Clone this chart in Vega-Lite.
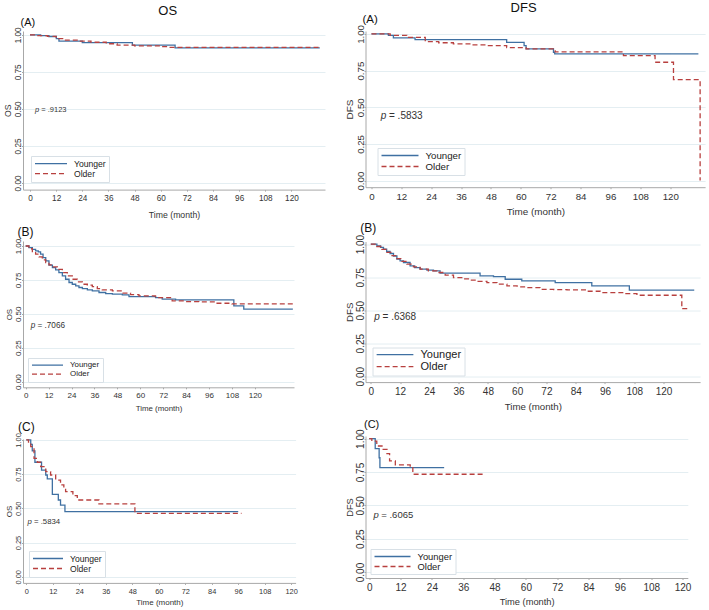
{
  "$schema": "https://vega.github.io/schema/vega-lite/v6.json",
  "padding": {"left": 3, "top": 2, "right": 0, "bottom": 0},
  "datasets": {
    "km": [
      {"panel": "OSA", "group": "Younger", "t": 0, "s": 1},
      {"panel": "OSA", "group": "Younger", "t": 4.9, "s": 0.995},
      {"panel": "OSA", "group": "Younger", "t": 8.7, "s": 0.989},
      {"panel": "OSA", "group": "Younger", "t": 12.1, "s": 0.974},
      {"panel": "OSA", "group": "Younger", "t": 13.3, "s": 0.957},
      {"panel": "OSA", "group": "Younger", "t": 24, "s": 0.948},
      {"panel": "OSA", "group": "Younger", "t": 47, "s": 0.93},
      {"panel": "OSA", "group": "Younger", "t": 66.6, "s": 0.912},
      {"panel": "OSA", "group": "Younger", "t": 133, "s": 0.912},
      {"panel": "OSA", "group": "Older", "t": 0, "s": 1},
      {"panel": "OSA", "group": "Older", "t": 3, "s": 0.995},
      {"panel": "OSA", "group": "Older", "t": 8, "s": 0.99},
      {"panel": "OSA", "group": "Older", "t": 12, "s": 0.975},
      {"panel": "OSA", "group": "Older", "t": 15, "s": 0.965},
      {"panel": "OSA", "group": "Older", "t": 22, "s": 0.958},
      {"panel": "OSA", "group": "Older", "t": 28, "s": 0.95},
      {"panel": "OSA", "group": "Older", "t": 35, "s": 0.94},
      {"panel": "OSA", "group": "Older", "t": 40, "s": 0.93},
      {"panel": "OSA", "group": "Older", "t": 48, "s": 0.925},
      {"panel": "OSA", "group": "Older", "t": 60, "s": 0.92},
      {"panel": "OSA", "group": "Older", "t": 64, "s": 0.916},
      {"panel": "OSA", "group": "Older", "t": 133, "s": 0.916},

      {"panel": "DFSA", "group": "Younger", "t": 0, "s": 1},
      {"panel": "DFSA", "group": "Younger", "t": 6.8, "s": 0.99},
      {"panel": "DFSA", "group": "Younger", "t": 8.8, "s": 0.973},
      {"panel": "DFSA", "group": "Younger", "t": 17.5, "s": 0.961},
      {"panel": "DFSA", "group": "Younger", "t": 54.3, "s": 0.943},
      {"panel": "DFSA", "group": "Younger", "t": 61.3, "s": 0.92},
      {"panel": "DFSA", "group": "Younger", "t": 62.1, "s": 0.898},
      {"panel": "DFSA", "group": "Younger", "t": 73.1, "s": 0.875},
      {"panel": "DFSA", "group": "Younger", "t": 73.6, "s": 0.864},
      {"panel": "DFSA", "group": "Younger", "t": 131.3, "s": 0.864},
      {"panel": "DFSA", "group": "Older", "t": 0, "s": 1},
      {"panel": "DFSA", "group": "Older", "t": 7.5, "s": 0.99},
      {"panel": "DFSA", "group": "Older", "t": 14.2, "s": 0.976},
      {"panel": "DFSA", "group": "Older", "t": 21.6, "s": 0.948},
      {"panel": "DFSA", "group": "Older", "t": 27, "s": 0.94},
      {"panel": "DFSA", "group": "Older", "t": 32.9, "s": 0.932},
      {"panel": "DFSA", "group": "Older", "t": 40, "s": 0.925},
      {"panel": "DFSA", "group": "Older", "t": 46.3, "s": 0.92},
      {"panel": "DFSA", "group": "Older", "t": 54.3, "s": 0.907},
      {"panel": "DFSA", "group": "Older", "t": 62.1, "s": 0.898},
      {"panel": "DFSA", "group": "Older", "t": 73, "s": 0.891},
      {"panel": "DFSA", "group": "Older", "t": 73.8, "s": 0.878},
      {"panel": "DFSA", "group": "Older", "t": 101.2, "s": 0.852},
      {"panel": "DFSA", "group": "Older", "t": 113.9, "s": 0.807},
      {"panel": "DFSA", "group": "Older", "t": 121.3, "s": 0.688},
      {"panel": "DFSA", "group": "Older", "t": 132, "s": 0},

      {"panel": "OSB", "group": "Younger", "t": 0, "s": 1},
      {"panel": "OSB", "group": "Younger", "t": 1.7, "s": 0.988},
      {"panel": "OSB", "group": "Younger", "t": 3.5, "s": 0.975},
      {"panel": "OSB", "group": "Younger", "t": 5.2, "s": 0.964},
      {"panel": "OSB", "group": "Younger", "t": 6.6, "s": 0.957},
      {"panel": "OSB", "group": "Younger", "t": 7.8, "s": 0.94},
      {"panel": "OSB", "group": "Younger", "t": 9.1, "s": 0.915},
      {"panel": "OSB", "group": "Younger", "t": 10.5, "s": 0.89},
      {"panel": "OSB", "group": "Younger", "t": 12.2, "s": 0.859},
      {"panel": "OSB", "group": "Younger", "t": 14, "s": 0.841},
      {"panel": "OSB", "group": "Younger", "t": 15.7, "s": 0.824},
      {"panel": "OSB", "group": "Younger", "t": 17.4, "s": 0.804},
      {"panel": "OSB", "group": "Younger", "t": 19.2, "s": 0.78},
      {"panel": "OSB", "group": "Younger", "t": 20.9, "s": 0.755},
      {"panel": "OSB", "group": "Younger", "t": 22.7, "s": 0.731},
      {"panel": "OSB", "group": "Younger", "t": 24.4, "s": 0.718},
      {"panel": "OSB", "group": "Younger", "t": 26.2, "s": 0.706},
      {"panel": "OSB", "group": "Younger", "t": 27.9, "s": 0.694},
      {"panel": "OSB", "group": "Younger", "t": 29.7, "s": 0.686},
      {"panel": "OSB", "group": "Younger", "t": 32.3, "s": 0.677},
      {"panel": "OSB", "group": "Younger", "t": 34.9, "s": 0.669},
      {"panel": "OSB", "group": "Younger", "t": 38.4, "s": 0.657},
      {"panel": "OSB", "group": "Younger", "t": 41.9, "s": 0.649},
      {"panel": "OSB", "group": "Younger", "t": 45.4, "s": 0.645},
      {"panel": "OSB", "group": "Younger", "t": 50.6, "s": 0.64},
      {"panel": "OSB", "group": "Younger", "t": 54.1, "s": 0.627},
      {"panel": "OSB", "group": "Younger", "t": 68, "s": 0.62},
      {"panel": "OSB", "group": "Younger", "t": 71.5, "s": 0.608},
      {"panel": "OSB", "group": "Younger", "t": 78.5, "s": 0.603},
      {"panel": "OSB", "group": "Younger", "t": 109, "s": 0.558},
      {"panel": "OSB", "group": "Younger", "t": 114.2, "s": 0.534},
      {"panel": "OSB", "group": "Younger", "t": 139.9, "s": 0.534},
      {"panel": "OSB", "group": "Older", "t": 0, "s": 1},
      {"panel": "OSB", "group": "Older", "t": 1.7, "s": 0.98},
      {"panel": "OSB", "group": "Older", "t": 3.5, "s": 0.958},
      {"panel": "OSB", "group": "Older", "t": 5.2, "s": 0.94},
      {"panel": "OSB", "group": "Older", "t": 7, "s": 0.92},
      {"panel": "OSB", "group": "Older", "t": 8.7, "s": 0.898},
      {"panel": "OSB", "group": "Older", "t": 10.5, "s": 0.878},
      {"panel": "OSB", "group": "Older", "t": 12.2, "s": 0.861},
      {"panel": "OSB", "group": "Older", "t": 14, "s": 0.846},
      {"panel": "OSB", "group": "Older", "t": 16.6, "s": 0.828},
      {"panel": "OSB", "group": "Older", "t": 19.2, "s": 0.804},
      {"panel": "OSB", "group": "Older", "t": 21.8, "s": 0.78},
      {"panel": "OSB", "group": "Older", "t": 24.4, "s": 0.755},
      {"panel": "OSB", "group": "Older", "t": 27, "s": 0.736},
      {"panel": "OSB", "group": "Older", "t": 29.7, "s": 0.718},
      {"panel": "OSB", "group": "Older", "t": 32.3, "s": 0.711},
      {"panel": "OSB", "group": "Older", "t": 34.9, "s": 0.701},
      {"panel": "OSB", "group": "Older", "t": 37.5, "s": 0.686},
      {"panel": "OSB", "group": "Older", "t": 40.1, "s": 0.677},
      {"panel": "OSB", "group": "Older", "t": 45.4, "s": 0.669},
      {"panel": "OSB", "group": "Older", "t": 50.6, "s": 0.652},
      {"panel": "OSB", "group": "Older", "t": 54.9, "s": 0.642},
      {"panel": "OSB", "group": "Older", "t": 59.3, "s": 0.632},
      {"panel": "OSB", "group": "Older", "t": 68, "s": 0.62},
      {"panel": "OSB", "group": "Older", "t": 76.7, "s": 0.595},
      {"panel": "OSB", "group": "Older", "t": 83.7, "s": 0.59},
      {"panel": "OSB", "group": "Older", "t": 90.7, "s": 0.588},
      {"panel": "OSB", "group": "Older", "t": 99.4, "s": 0.578},
      {"panel": "OSB", "group": "Older", "t": 108, "s": 0.573},
      {"panel": "OSB", "group": "Older", "t": 140, "s": 0.573},

      {"panel": "DFSB", "group": "Younger", "t": 0, "s": 1},
      {"panel": "DFSB", "group": "Younger", "t": 2.5, "s": 0.987},
      {"panel": "DFSB", "group": "Younger", "t": 4, "s": 0.975},
      {"panel": "DFSB", "group": "Younger", "t": 5.2, "s": 0.962},
      {"panel": "DFSB", "group": "Younger", "t": 6.5, "s": 0.945},
      {"panel": "DFSB", "group": "Younger", "t": 7.9, "s": 0.929},
      {"panel": "DFSB", "group": "Younger", "t": 9.3, "s": 0.91},
      {"panel": "DFSB", "group": "Younger", "t": 10.7, "s": 0.886},
      {"panel": "DFSB", "group": "Younger", "t": 12, "s": 0.873},
      {"panel": "DFSB", "group": "Younger", "t": 13.4, "s": 0.861},
      {"panel": "DFSB", "group": "Younger", "t": 16.1, "s": 0.835},
      {"panel": "DFSB", "group": "Younger", "t": 18, "s": 0.822},
      {"panel": "DFSB", "group": "Younger", "t": 20.2, "s": 0.81},
      {"panel": "DFSB", "group": "Younger", "t": 23, "s": 0.803},
      {"panel": "DFSB", "group": "Younger", "t": 25.7, "s": 0.797},
      {"panel": "DFSB", "group": "Younger", "t": 28.4, "s": 0.78},
      {"panel": "DFSB", "group": "Younger", "t": 44.8, "s": 0.759},
      {"panel": "DFSB", "group": "Younger", "t": 50.3, "s": 0.754},
      {"panel": "DFSB", "group": "Younger", "t": 55.1, "s": 0.734},
      {"panel": "DFSB", "group": "Younger", "t": 61.9, "s": 0.722},
      {"panel": "DFSB", "group": "Younger", "t": 75.6, "s": 0.709},
      {"panel": "DFSB", "group": "Younger", "t": 90.6, "s": 0.684},
      {"panel": "DFSB", "group": "Younger", "t": 106, "s": 0.651},
      {"panel": "DFSB", "group": "Younger", "t": 132.6, "s": 0.651},
      {"panel": "DFSB", "group": "Older", "t": 0, "s": 1},
      {"panel": "DFSB", "group": "Older", "t": 2.5, "s": 0.982},
      {"panel": "DFSB", "group": "Older", "t": 4.5, "s": 0.96},
      {"panel": "DFSB", "group": "Older", "t": 6.6, "s": 0.937},
      {"panel": "DFSB", "group": "Older", "t": 8.7, "s": 0.913},
      {"panel": "DFSB", "group": "Older", "t": 10.7, "s": 0.891},
      {"panel": "DFSB", "group": "Older", "t": 12.8, "s": 0.87},
      {"panel": "DFSB", "group": "Older", "t": 14.8, "s": 0.848},
      {"panel": "DFSB", "group": "Older", "t": 17.5, "s": 0.828},
      {"panel": "DFSB", "group": "Older", "t": 20.2, "s": 0.81},
      {"panel": "DFSB", "group": "Older", "t": 23.6, "s": 0.797},
      {"panel": "DFSB", "group": "Older", "t": 27.1, "s": 0.785},
      {"panel": "DFSB", "group": "Older", "t": 30.5, "s": 0.765},
      {"panel": "DFSB", "group": "Older", "t": 33.9, "s": 0.747},
      {"panel": "DFSB", "group": "Older", "t": 37.3, "s": 0.737},
      {"panel": "DFSB", "group": "Older", "t": 40.7, "s": 0.727},
      {"panel": "DFSB", "group": "Older", "t": 44, "s": 0.718},
      {"panel": "DFSB", "group": "Older", "t": 47.6, "s": 0.709},
      {"panel": "DFSB", "group": "Older", "t": 51.7, "s": 0.697},
      {"panel": "DFSB", "group": "Older", "t": 55.8, "s": 0.684},
      {"panel": "DFSB", "group": "Older", "t": 60, "s": 0.677},
      {"panel": "DFSB", "group": "Older", "t": 64, "s": 0.671},
      {"panel": "DFSB", "group": "Older", "t": 69.4, "s": 0.658},
      {"panel": "DFSB", "group": "Older", "t": 75, "s": 0.655},
      {"panel": "DFSB", "group": "Older", "t": 80.4, "s": 0.653},
      {"panel": "DFSB", "group": "Older", "t": 88.6, "s": 0.643},
      {"panel": "DFSB", "group": "Older", "t": 94, "s": 0.633},
      {"panel": "DFSB", "group": "Older", "t": 103.6, "s": 0.625},
      {"panel": "DFSB", "group": "Older", "t": 109.1, "s": 0.613},
      {"panel": "DFSB", "group": "Older", "t": 127.5, "s": 0.511},
      {"panel": "DFSB", "group": "Older", "t": 130.2, "s": 0.511},

      {"panel": "OSC", "group": "Younger", "t": 0, "s": 1},
      {"panel": "OSC", "group": "Younger", "t": 2, "s": 0.968},
      {"panel": "OSC", "group": "Younger", "t": 2.7, "s": 0.92},
      {"panel": "OSC", "group": "Younger", "t": 3.9, "s": 0.837},
      {"panel": "OSC", "group": "Younger", "t": 6.9, "s": 0.78},
      {"panel": "OSC", "group": "Younger", "t": 8.8, "s": 0.744},
      {"panel": "OSC", "group": "Younger", "t": 9.5, "s": 0.715},
      {"panel": "OSC", "group": "Younger", "t": 11.8, "s": 0.602},
      {"panel": "OSC", "group": "Younger", "t": 14.5, "s": 0.561},
      {"panel": "OSC", "group": "Younger", "t": 15.5, "s": 0.524},
      {"panel": "OSC", "group": "Younger", "t": 17.5, "s": 0.476},
      {"panel": "OSC", "group": "Younger", "t": 96, "s": 0.476},
      {"panel": "OSC", "group": "Older", "t": 0, "s": 1},
      {"panel": "OSC", "group": "Older", "t": 1, "s": 0.97},
      {"panel": "OSC", "group": "Older", "t": 2, "s": 0.951},
      {"panel": "OSC", "group": "Older", "t": 3.5, "s": 0.866},
      {"panel": "OSC", "group": "Older", "t": 5, "s": 0.837},
      {"panel": "OSC", "group": "Older", "t": 6.5, "s": 0.805},
      {"panel": "OSC", "group": "Older", "t": 8.8, "s": 0.768},
      {"panel": "OSC", "group": "Older", "t": 11, "s": 0.744},
      {"panel": "OSC", "group": "Older", "t": 13.3, "s": 0.707},
      {"panel": "OSC", "group": "Older", "t": 15.5, "s": 0.671},
      {"panel": "OSC", "group": "Older", "t": 17, "s": 0.646},
      {"panel": "OSC", "group": "Older", "t": 17.8, "s": 0.622},
      {"panel": "OSC", "group": "Older", "t": 21.1, "s": 0.593},
      {"panel": "OSC", "group": "Older", "t": 23.1, "s": 0.561},
      {"panel": "OSC", "group": "Older", "t": 32.9, "s": 0.532},
      {"panel": "OSC", "group": "Older", "t": 49.2, "s": 0.463},
      {"panel": "OSC", "group": "Older", "t": 97.5, "s": 0.463},

      {"panel": "DFSC", "group": "Younger", "t": 0, "s": 1},
      {"panel": "DFSC", "group": "Younger", "t": 2.3, "s": 0.925},
      {"panel": "DFSC", "group": "Younger", "t": 3.8, "s": 0.857},
      {"panel": "DFSC", "group": "Younger", "t": 4.1, "s": 0.783},
      {"panel": "DFSC", "group": "Younger", "t": 28.7, "s": 0.783},
      {"panel": "DFSC", "group": "Older", "t": 0, "s": 1},
      {"panel": "DFSC", "group": "Older", "t": 1, "s": 0.982},
      {"panel": "DFSC", "group": "Older", "t": 2.9, "s": 0.945},
      {"panel": "DFSC", "group": "Older", "t": 4.9, "s": 0.92},
      {"panel": "DFSC", "group": "Older", "t": 6.8, "s": 0.888},
      {"panel": "DFSC", "group": "Older", "t": 7.8, "s": 0.833},
      {"panel": "DFSC", "group": "Older", "t": 10, "s": 0.803},
      {"panel": "DFSC", "group": "Older", "t": 15.7, "s": 0.783},
      {"panel": "DFSC", "group": "Older", "t": 16.7, "s": 0.733},
      {"panel": "DFSC", "group": "Older", "t": 44.4, "s": 0.733}
    ],
    "pv": [
      {"panel": "OSA", "label": "= .9123"},
      {"panel": "DFSA", "label": "= .5833"},
      {"panel": "OSB", "label": "= .7066"},
      {"panel": "DFSB", "label": "= .6368"},
      {"panel": "OSC", "label": "= .5834"},
      {"panel": "DFSC", "label": "= .6065"}
    ]
  },
  "hconcat": [
    {
      "title": {"text": "OS", "fontSize": 13, "anchor": "middle", "frame": "bounds", "offset": -1, "dx": 3.5},
      "bounds": "flush",
      "spacing": 51,
      "resolve": {"scale": {"color": "independent", "strokeDash": "independent"}, "legend": {"color": "independent", "strokeDash": "independent"}},
      "vconcat": [
        {
          "width": 302, "height": 158.6,
          "title": {"text": "(A)", "fontSize": 11, "dx": -2.5},
          "layer": [
            {
              "data": {"name": "km"},
              "transform": [{"filter": "datum.panel === 'OSA'"}],
              "mark": {"type": "line", "interpolate": "step-after", "strokeWidth": 1.3},
              "encoding": {
                "x": {"field": "t", "type": "quantitative", "scale": {"domain": [-3.2, 135.4], "nice": false, "zero": false},
                      "axis": {"title": "Time (month)", "values": [0, 12, 24, 36, 48, 60, 72, 84, 96, 108, 120], "labelOverlap": false, "labelFontSize": 8.2, "titleFontSize": 8.7, "titlePadding": 9}},
                "y": {"field": "s", "type": "quantitative", "scale": {"domain": [-0.045, 1.026], "nice": false},
                      "axis": {"title": "OS", "values": [0, 0.25, 0.5, 0.75, 1], "labelOverlap": false, "labelFontSize": 8.2, "titleFontSize": 8.7}},
                "color": {"field": "group", "type": "nominal", "scale": {"domain": ["Younger", "Older"], "range": ["#3f70a2", "#b8403f"]},
                          "legend": {"labelFontSize": 8.6, "symbolSize": 1024, "clipHeight": 9.3, "offset": 8}},
                "strokeDash": {"field": "group", "type": "nominal", "scale": {"domain": ["Younger", "Older"], "range": [[1, 0], [5, 3]]},
                          "legend": {"labelFontSize": 8.6, "symbolSize": 1024, "clipHeight": 9.3, "offset": 8}}
              }
            },
            {
              "data": {"name": "pv"},
              "transform": [{"filter": "datum.panel === 'OSA'"}],
              "mark": {"type": "text", "align": "left", "baseline": "middle", "fontStyle": "italic", "fontSize": 7.5, "color": "#333"},
              "encoding": {
                "x": {"datum": 2.3, "type": "quantitative", "axis": {"title": "Time (month)", "values": [0, 12, 24, 36, 48, 60, 72, 84, 96, 108, 120], "labelOverlap": false, "labelFontSize": 8.2, "titleFontSize": 8.7, "titlePadding": 9}},
                "y": {"datum": 0.49, "type": "quantitative", "axis": {"title": "OS", "values": [0, 0.25, 0.5, 0.75, 1], "labelOverlap": false, "labelFontSize": 8.2, "titleFontSize": 8.7}},
                "text": {"value": "p"}}
            },
            {
              "data": {"name": "pv"},
              "transform": [{"filter": "datum.panel === 'OSA'"}],
              "mark": {"type": "text", "align": "left", "baseline": "middle", "fontSize": 7.5, "dx": 6.3, "color": "#333"},
              "encoding": {
                "x": {"datum": 2.3, "type": "quantitative", "axis": {"title": "Time (month)", "values": [0, 12, 24, 36, 48, 60, 72, 84, 96, 108, 120], "labelOverlap": false, "labelFontSize": 8.2, "titleFontSize": 8.7, "titlePadding": 9}},
                "y": {"datum": 0.49, "type": "quantitative", "axis": {"title": "OS", "values": [0, 0.25, 0.5, 0.75, 1], "labelOverlap": false, "labelFontSize": 8.2, "titleFontSize": 8.7}},
                "text": {"field": "label"}}
            }
          ]
        },
        {
          "width": 271, "height": 146.3,
          "title": {"text": "(B)", "fontSize": 12, "dx": -5.5},
          "layer": [
            {
              "data": {"name": "km"},
              "transform": [{"filter": "datum.panel === 'OSB'"}],
              "mark": {"type": "line", "interpolate": "step-after", "strokeWidth": 1.3},
              "encoding": {
                "x": {"field": "t", "type": "quantitative", "scale": {"domain": [-1.4, 140.5], "nice": false, "zero": false},
                      "axis": {"title": "Time (month)", "values": [0, 12, 24, 36, 48, 60, 72, 84, 96, 108, 120], "labelOverlap": false, "labelFontSize": 8, "titleFontSize": 7.9}},
                "y": {"field": "s", "type": "quantitative", "scale": {"domain": [-0.042, 1.037], "nice": false},
                      "axis": {"title": "OS", "values": [0, 0.25, 0.5, 0.75, 1], "labelOverlap": false, "labelFontSize": 8, "titleFontSize": 7.9}},
                "color": {"field": "group", "type": "nominal", "scale": {"domain": ["Younger", "Older"], "range": ["#3f70a2", "#b8403f"]},
                          "legend": {"labelFontSize": 7.9, "symbolSize": 961, "clipHeight": 8.3, "offset": 5}},
                "strokeDash": {"field": "group", "type": "nominal", "scale": {"domain": ["Younger", "Older"], "range": [[1, 0], [5, 3]]},
                          "legend": {"labelFontSize": 7.9, "symbolSize": 961, "clipHeight": 8.3, "offset": 5}}
              }
            },
            {
              "data": {"name": "pv"},
              "transform": [{"filter": "datum.panel === 'OSB'"}],
              "mark": {"type": "text", "align": "left", "baseline": "middle", "fontStyle": "italic", "fontSize": 8.2, "color": "#333"},
              "encoding": {
                "x": {"datum": 2.6, "type": "quantitative", "axis": {"title": "Time (month)", "values": [0, 12, 24, 36, 48, 60, 72, 84, 96, 108, 120], "labelOverlap": false, "labelFontSize": 8, "titleFontSize": 7.9}},
                "y": {"datum": 0.41, "type": "quantitative", "axis": {"title": "OS", "values": [0, 0.25, 0.5, 0.75, 1], "labelOverlap": false, "labelFontSize": 8, "titleFontSize": 7.9}},
                "text": {"value": "p"}}
            },
            {
              "data": {"name": "pv"},
              "transform": [{"filter": "datum.panel === 'OSB'"}],
              "mark": {"type": "text", "align": "left", "baseline": "middle", "fontSize": 8.2, "dx": 6.8, "color": "#333"},
              "encoding": {
                "x": {"datum": 2.6, "type": "quantitative", "axis": {"title": "Time (month)", "values": [0, 12, 24, 36, 48, 60, 72, 84, 96, 108, 120], "labelOverlap": false, "labelFontSize": 8, "titleFontSize": 7.9}},
                "y": {"datum": 0.41, "type": "quantitative", "axis": {"title": "OS", "values": [0, 0.25, 0.5, 0.75, 1], "labelOverlap": false, "labelFontSize": 8, "titleFontSize": 7.9}},
                "text": {"field": "label"}}
            }
          ]
        },
        {
          "width": 272.6, "height": 143.9,
          "title": {"text": "(C)", "fontSize": 12, "dx": -5},
          "layer": [
            {
              "data": {"name": "km"},
              "transform": [{"filter": "datum.panel === 'OSC'"}],
              "mark": {"type": "line", "interpolate": "step-after", "strokeWidth": 1.3},
              "encoding": {
                "x": {"field": "t", "type": "quantitative", "scale": {"domain": [-1.5, 122], "nice": false, "zero": false},
                      "axis": {"title": "Time (month)", "values": [0, 12, 24, 36, 48, 60, 72, 84, 96, 108, 120], "labelOverlap": false, "labelFontSize": 7.4, "titleFontSize": 8, "titlePadding": 4}},
                "y": {"field": "s", "type": "quantitative", "scale": {"domain": [-0.045, 1.007], "nice": false},
                      "axis": {"title": "OS", "values": [0, 0.25, 0.5, 0.75, 1], "labelOverlap": false, "labelFontSize": 7.4, "titleFontSize": 8}},
                "color": {"field": "group", "type": "nominal", "scale": {"domain": ["Younger", "Older"], "range": ["#3f70a2", "#b8403f"]},
                          "legend": {"labelFontSize": 8.6, "symbolSize": 900, "clipHeight": 9, "offset": 6}},
                "strokeDash": {"field": "group", "type": "nominal", "scale": {"domain": ["Younger", "Older"], "range": [[1, 0], [5, 3]]},
                          "legend": {"labelFontSize": 8.6, "symbolSize": 900, "clipHeight": 9, "offset": 6}}
              }
            },
            {
              "data": {"name": "pv"},
              "transform": [{"filter": "datum.panel === 'OSC'"}],
              "mark": {"type": "text", "align": "left", "baseline": "middle", "fontStyle": "italic", "fontSize": 7.8, "color": "#333"},
              "encoding": {
                "x": {"datum": 0.5, "type": "quantitative", "axis": {"title": "Time (month)", "values": [0, 12, 24, 36, 48, 60, 72, 84, 96, 108, 120], "labelOverlap": false, "labelFontSize": 7.4, "titleFontSize": 8, "titlePadding": 4}},
                "y": {"datum": 0.4, "type": "quantitative", "axis": {"title": "OS", "values": [0, 0.25, 0.5, 0.75, 1], "labelOverlap": false, "labelFontSize": 7.4, "titleFontSize": 8}},
                "text": {"value": "p"}}
            },
            {
              "data": {"name": "pv"},
              "transform": [{"filter": "datum.panel === 'OSC'"}],
              "mark": {"type": "text", "align": "left", "baseline": "middle", "fontSize": 7.8, "dx": 6.5, "color": "#333"},
              "encoding": {
                "x": {"datum": 0.5, "type": "quantitative", "axis": {"title": "Time (month)", "values": [0, 12, 24, 36, 48, 60, 72, 84, 96, 108, 120], "labelOverlap": false, "labelFontSize": 7.4, "titleFontSize": 8, "titlePadding": 4}},
                "y": {"datum": 0.4, "type": "quantitative", "axis": {"title": "OS", "values": [0, 0.25, 0.5, 0.75, 1], "labelOverlap": false, "labelFontSize": 7.4, "titleFontSize": 8}},
                "text": {"field": "label"}}
            }
          ]
        }
      ]
    },
    {
      "title": {"text": "DFS", "fontSize": 13, "anchor": "middle", "frame": "bounds", "offset": -1, "dx": -1},
      "bounds": "flush",
      "spacing": 53.5,
      "resolve": {"scale": {"color": "independent", "strokeDash": "independent"}, "legend": {"color": "independent", "strokeDash": "independent"}},
      "vconcat": [
        {
          "width": 339.6, "height": 156.2,
          "title": {"text": "(A)", "fontSize": 11.5, "dx": -3},
          "layer": [
            {
              "data": {"name": "km"},
              "transform": [{"filter": "datum.panel === 'DFSA'"}],
              "mark": {"type": "line", "interpolate": "step-after", "strokeWidth": 1.3},
              "encoding": {
                "x": {"field": "t", "type": "quantitative", "scale": {"domain": [-2.4, 134], "nice": false, "zero": false},
                      "axis": {"title": "Time (month)", "values": [0, 12, 24, 36, 48, 60, 72, 84, 96, 108, 120], "labelOverlap": false, "labelFontSize": 9.7, "titleFontSize": 9.9}},
                "y": {"field": "s", "type": "quantitative", "scale": {"domain": [-0.045, 1.02], "nice": false},
                      "axis": {"title": "DFS", "values": [0, 0.25, 0.5, 0.75, 1], "labelOverlap": false, "labelFontSize": 9.7, "titleFontSize": 9.9}},
                "color": {"field": "group", "type": "nominal", "scale": {"domain": ["Younger", "Older"], "range": ["#3f70a2", "#b8403f"]},
                          "legend": {"labelFontSize": 9.7, "symbolSize": 1369, "clipHeight": 9, "offset": 12}},
                "strokeDash": {"field": "group", "type": "nominal", "scale": {"domain": ["Younger", "Older"], "range": [[1, 0], [5, 3]]},
                          "legend": {"labelFontSize": 9.7, "symbolSize": 1369, "clipHeight": 9, "offset": 12}}
              }
            },
            {
              "data": {"name": "pv"},
              "transform": [{"filter": "datum.panel === 'DFSA'"}],
              "mark": {"type": "text", "align": "left", "baseline": "middle", "fontStyle": "italic", "fontSize": 10, "color": "#333"},
              "encoding": {
                "x": {"datum": 3.7, "type": "quantitative", "axis": {"title": "Time (month)", "values": [0, 12, 24, 36, 48, 60, 72, 84, 96, 108, 120], "labelOverlap": false, "labelFontSize": 9.7, "titleFontSize": 9.9}},
                "y": {"datum": 0.44, "type": "quantitative", "axis": {"title": "DFS", "values": [0, 0.25, 0.5, 0.75, 1], "labelOverlap": false, "labelFontSize": 9.7, "titleFontSize": 9.9}},
                "text": {"value": "p"}}
            },
            {
              "data": {"name": "pv"},
              "transform": [{"filter": "datum.panel === 'DFSA'"}],
              "mark": {"type": "text", "align": "left", "baseline": "middle", "fontSize": 10, "dx": 8.3, "color": "#333"},
              "encoding": {
                "x": {"datum": 3.7, "type": "quantitative", "axis": {"title": "Time (month)", "values": [0, 12, 24, 36, 48, 60, 72, 84, 96, 108, 120], "labelOverlap": false, "labelFontSize": 9.7, "titleFontSize": 9.9}},
                "y": {"datum": 0.44, "type": "quantitative", "axis": {"title": "DFS", "values": [0, 0.25, 0.5, 0.75, 1], "labelOverlap": false, "labelFontSize": 9.7, "titleFontSize": 9.9}},
                "text": {"field": "label"}}
            }
          ]
        },
        {
          "width": 334.6, "height": 140.6,
          "title": {"text": "(B)", "fontSize": 12, "dx": -5.3},
          "layer": [
            {
              "data": {"name": "km"},
              "transform": [{"filter": "datum.panel === 'DFSB'"}],
              "mark": {"type": "line", "interpolate": "step-after", "strokeWidth": 1.3},
              "encoding": {
                "x": {"field": "t", "type": "quantitative", "scale": {"domain": [-2.17, 135], "nice": false, "zero": false},
                      "axis": {"title": "Time (month)", "values": [0, 12, 24, 36, 48, 60, 72, 84, 96, 108, 120], "labelOverlap": false, "labelFontSize": 10, "titleFontSize": 9.7}},
                "y": {"field": "s", "type": "quantitative", "scale": {"domain": [-0.045, 1.02], "nice": false},
                      "axis": {"title": "DFS", "values": [0, 0.25, 0.5, 0.75, 1], "labelOverlap": false, "labelFontSize": 10, "titleFontSize": 9.7}},
                "color": {"field": "group", "type": "nominal", "scale": {"domain": ["Younger", "Older"], "range": ["#3f70a2", "#b8403f"]},
                          "legend": {"labelFontSize": 11, "symbolSize": 1350, "clipHeight": 8.3, "offset": 7}},
                "strokeDash": {"field": "group", "type": "nominal", "scale": {"domain": ["Younger", "Older"], "range": [[1, 0], [5, 3]]},
                          "legend": {"labelFontSize": 11, "symbolSize": 1350, "clipHeight": 8.3, "offset": 7}}
              }
            },
            {
              "data": {"name": "pv"},
              "transform": [{"filter": "datum.panel === 'DFSB'"}],
              "mark": {"type": "text", "align": "left", "baseline": "middle", "fontStyle": "italic", "fontSize": 10, "color": "#333"},
              "encoding": {
                "x": {"datum": 1.4, "type": "quantitative", "axis": {"title": "Time (month)", "values": [0, 12, 24, 36, 48, 60, 72, 84, 96, 108, 120], "labelOverlap": false, "labelFontSize": 10, "titleFontSize": 9.7}},
                "y": {"datum": 0.45, "type": "quantitative", "axis": {"title": "DFS", "values": [0, 0.25, 0.5, 0.75, 1], "labelOverlap": false, "labelFontSize": 10, "titleFontSize": 9.7}},
                "text": {"value": "p"}}
            },
            {
              "data": {"name": "pv"},
              "transform": [{"filter": "datum.panel === 'DFSB'"}],
              "mark": {"type": "text", "align": "left", "baseline": "middle", "fontSize": 10, "dx": 8.3, "color": "#333"},
              "encoding": {
                "x": {"datum": 1.4, "type": "quantitative", "axis": {"title": "Time (month)", "values": [0, 12, 24, 36, 48, 60, 72, 84, 96, 108, 120], "labelOverlap": false, "labelFontSize": 10, "titleFontSize": 9.7}},
                "y": {"datum": 0.45, "type": "quantitative", "axis": {"title": "DFS", "values": [0, 0.25, 0.5, 0.75, 1], "labelOverlap": false, "labelFontSize": 10, "titleFontSize": 9.7}},
                "text": {"field": "label"}}
            }
          ]
        },
        {
          "width": 322.3, "height": 142,
          "title": {"text": "(C)", "fontSize": 11, "dx": -1.5},
          "layer": [
            {
              "data": {"name": "km"},
              "transform": [{"filter": "datum.panel === 'DFSC'"}],
              "mark": {"type": "line", "interpolate": "step-after", "strokeWidth": 1.3},
              "encoding": {
                "x": {"field": "t", "type": "quantitative", "scale": {"domain": [-1.42, 122], "nice": false, "zero": false},
                      "axis": {"title": "Time (month)", "values": [0, 12, 24, 36, 48, 60, 72, 84, 96, 108, 120], "labelOverlap": false, "labelFontSize": 10, "titleFontSize": 9.3}},
                "y": {"field": "s", "type": "quantitative", "scale": {"domain": [-0.045, 1.02], "nice": false},
                      "axis": {"title": "DFS", "values": [0, 0.25, 0.5, 0.75, 1], "labelOverlap": false, "labelFontSize": 10, "titleFontSize": 9.3}},
                "color": {"field": "group", "type": "nominal", "scale": {"domain": ["Younger", "Older"], "range": ["#3f70a2", "#b8403f"]},
                          "legend": {"labelFontSize": 9.4, "symbolSize": 1296, "clipHeight": 9, "offset": 4.5}},
                "strokeDash": {"field": "group", "type": "nominal", "scale": {"domain": ["Younger", "Older"], "range": [[1, 0], [5, 3]]},
                          "legend": {"labelFontSize": 9.4, "symbolSize": 1296, "clipHeight": 9, "offset": 4.5}}
              }
            },
            {
              "data": {"name": "pv"},
              "transform": [{"filter": "datum.panel === 'DFSC'"}],
              "mark": {"type": "text", "align": "left", "baseline": "middle", "fontStyle": "italic", "fontSize": 9.5, "color": "#333"},
              "encoding": {
                "x": {"datum": 1.6, "type": "quantitative", "axis": {"title": "Time (month)", "values": [0, 12, 24, 36, 48, 60, 72, 84, 96, 108, 120], "labelOverlap": false, "labelFontSize": 10, "titleFontSize": 9.3}},
                "y": {"datum": 0.43, "type": "quantitative", "axis": {"title": "DFS", "values": [0, 0.25, 0.5, 0.75, 1], "labelOverlap": false, "labelFontSize": 10, "titleFontSize": 9.3}},
                "text": {"value": "p"}}
            },
            {
              "data": {"name": "pv"},
              "transform": [{"filter": "datum.panel === 'DFSC'"}],
              "mark": {"type": "text", "align": "left", "baseline": "middle", "fontSize": 9.5, "dx": 7.9, "color": "#333"},
              "encoding": {
                "x": {"datum": 1.6, "type": "quantitative", "axis": {"title": "Time (month)", "values": [0, 12, 24, 36, 48, 60, 72, 84, 96, 108, 120], "labelOverlap": false, "labelFontSize": 10, "titleFontSize": 9.3}},
                "y": {"datum": 0.43, "type": "quantitative", "axis": {"title": "DFS", "values": [0, 0.25, 0.5, 0.75, 1], "labelOverlap": false, "labelFontSize": 10, "titleFontSize": 9.3}},
                "text": {"field": "label"}}
            }
          ]
        }
      ]
    }
  ],
  "spacing": 18.5,
  "resolve": {"scale": {"color": "independent", "strokeDash": "independent"}, "legend": {"color": "independent", "strokeDash": "independent"}},
  "config": {
    "font": "Liberation Sans",
    "view": {"stroke": null},
    "axis": {
      "domainColor": "#a8a8a8", "tickColor": "#a8a8a8", "tickSize": 1.5, "domainWidth": 1, "tickWidth": 1,
      "labelColor": "#333333", "titleColor": "#333333", "titleFontWeight": "normal",
      "labelFont": "Liberation Sans", "titleFont": "Liberation Sans",
      "gridColor": "#e4eef2", "gridWidth": 1,
      "labelFlush": false, "labelOverlap": false, "labelBound": false
    },
    "axisX": {"grid": false, "labelPadding": 3, "titlePadding": 5},
    "axisY": {"grid": true, "format": ".2f", "labelAngle": -90, "labelAlign": "center", "labelBaseline": "bottom", "labelPadding": -1, "titlePadding": 1},
    "legend": {
      "title": null, "orient": "bottom-left", "symbolType": "stroke", "symbolStrokeWidth": 1.4,
      "strokeColor": "#d8e0e6", "fillColor": "white", "padding": 3, "rowPadding": 0, "labelOffset": 6,
      "labelColor": "#222222", "labelFont": "Liberation Sans"
    },
    "title": {"font": "Liberation Sans", "fontWeight": "normal", "color": "#111111", "anchor": "start", "frame": "group", "offset": -1}
  }
}
